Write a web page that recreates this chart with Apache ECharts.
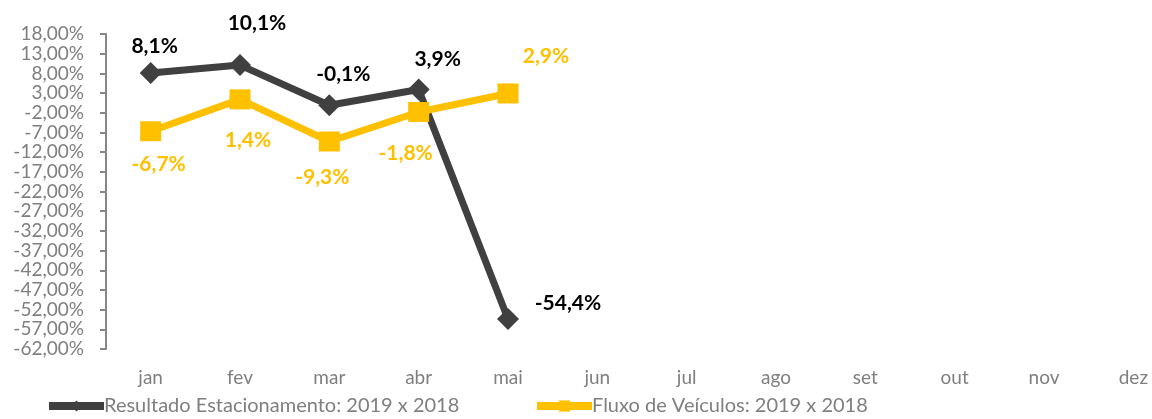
<!DOCTYPE html>
<html>
<head>
<meta charset="utf-8">
<script src="https://cdn.jsdelivr.net/npm/echarts@6/dist/echarts.min.js"></script>
<style>
  html, body { margin: 0; padding: 0; background: #fff; overflow: hidden; }
  /* a área do gráfico passa um pouco da janela, como no original */
  #chart { width: 1178px; height: 419px; }
</style>
</head>
<body>
<div id="chart"></div>
<script>
  // dados
  var meses = ['jan', 'fev', 'mar', 'abr', 'mai', 'jun', 'jul', 'ago', 'set', 'out', 'nov', 'dez']
  var resultado = [8.1, 10.1, -0.1, 3.9, -54.4]
  var fluxo = [-6.7, 1.4, -9.3, -1.8, 2.9]
  var nomeResultado = 'Resultado Estacionamento: 2019 x 2018'
  var nomeFluxo = 'Fluxo de Veículos: 2019 x 2018'

  // posição dos rótulos (deslocamento em px a partir do ponto)
  var offResultado = [[4, -27], [17, -42], [14, -31], [19, -30], [60, -16]]
  var offFluxo = [[8, 33], [8, 41], [-7, 36], [-13, 41], [38, -37]]

  var fonte = 'Lato, "DejaVu Sans", sans-serif'
  var cinza = '#7f7f7f'

  function pct (v) {
    return v.toFixed(1).replace('.', ',') + '%'
  }

  function montar (valores, offsets, cor) {
    return valores.map(function (v, i) {
      return {
        value: v,
        label: { offset: offsets[i], color: cor }
      }
    })
  }

  function legenda (nome, esquerda) {
    return {
      left: esquerda,
      top: 396,
      padding: 0,
      itemWidth: 55,
      itemHeight: 14,
      itemGap: 0,
      data: [nome],
      lineStyle: { width: 8 },
      textStyle: { color: cinza, fontSize: 20, fontFamily: fonte, padding: [0, 0, 0, -5] }
    }
  }

  var chart = echarts.init(document.getElementById('chart'))
  chart.setOption({
    animation: false,
    backgroundColor: '#fff',
    grid: { left: 106, top: 34, bottom: 70, right: 0 },
    legend: [legenda(nomeResultado, 45), legenda(nomeFluxo, 533)],
    xAxis: {
      type: 'category',
      data: meses,
      axisLine: { show: false },
      axisTick: { show: false },
      axisLabel: { color: cinza, fontSize: 19, fontFamily: fonte, margin: 19 }
    },
    yAxis: {
      type: 'value',
      min: -62,
      max: 18,
      interval: 5,
      axisLine: { show: true, lineStyle: { color: '#868686', width: 2 } },
      axisTick: { show: true, length: 6, lineStyle: { color: '#868686', width: 2 } },
      splitLine: { show: false },
      axisLabel: {
        color: cinza,
        fontSize: 19,
        fontFamily: fonte,
        margin: 22,
        lineHeight: 19,
        showMinLabel: true,
        showMaxLabel: true,
        hideOverlap: false,
        formatter: function (v) { return v.toFixed(2).replace('.', ',') + '%' }
      }
    },
    series: [{
      name: nomeResultado,
      type: 'line',
      data: montar(resultado, offResultado, '#000'),
      symbol: 'diamond',
      symbolSize: 22,
      itemStyle: { color: '#404040' },
      lineStyle: { color: '#404040', width: 7 },
      z: 3,
      label: {
        show: true,
        position: 'inside',
        fontFamily: fonte,
        fontSize: 21,
        fontWeight: 'bold',
        formatter: function (p) { return pct(p.value) }
      }
    }, {
      name: nomeFluxo,
      type: 'line',
      data: montar(fluxo, offFluxo, '#FFC000'),
      symbol: 'rect',
      symbolSize: [21, 20],
      itemStyle: { color: '#FFC000' },
      lineStyle: { color: '#FFC000', width: 7 },
      z: 4,
      label: {
        show: true,
        position: 'inside',
        fontFamily: fonte,
        fontSize: 21,
        fontWeight: 'bold',
        formatter: function (p) { return pct(p.value) }
      }
    }]
  })
</script>
</body>
</html>
